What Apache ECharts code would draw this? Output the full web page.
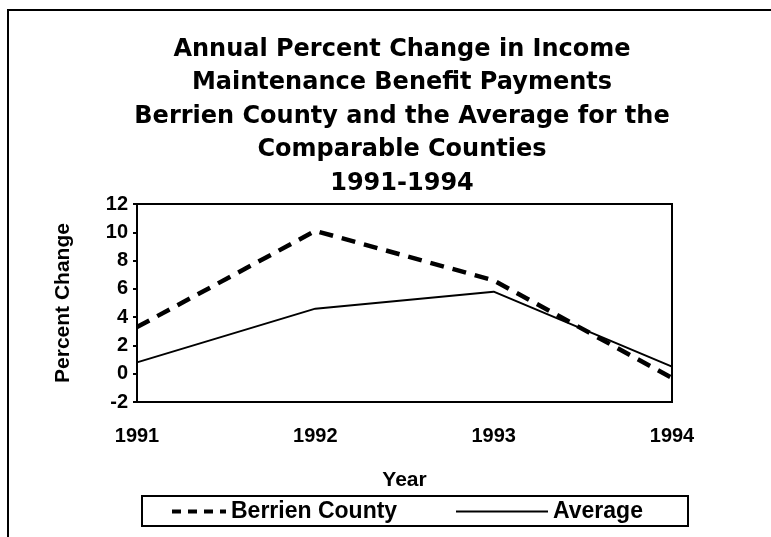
<!DOCTYPE html>
<html>
<head>
<meta charset="utf-8">
<script src="https://cdn.jsdelivr.net/npm/echarts@6/dist/echarts.min.js"></script>
<style>
  html, body { margin: 0; padding: 0; background: #fff; }
  #chart { width: 771px; height: 537px; }
</style>
</head>
<body>
<div id="chart"></div>
<script>
var years = ['1991', '1992', '1993', '1994'];
var berrien = [3.3, 10.1, 6.6, -0.3];
var average = [0.8, 4.6, 5.8, 0.5];
var titleLines = [
    'Annual Percent Change in Income',
    'Maintenance Benefit Payments',
    'Berrien County and the Average for the',
    'Comparable Counties',
    '1991-1994'
];

var font = '"Liberation Sans", Arial, sans-serif';
var wideFont = '"DejaVu Sans", sans-serif';
var chart = echarts.init(document.getElementById('chart'));

function legendTextStyle() {
    return { fontFamily: font, fontWeight: 'bold', fontSize: 23, color: '#000' };
}

chart.setOption({
    animation: false,
    backgroundColor: '#fff',
    title: {
        text: titleLines.join('\n'),
        left: 402,
        textAlign: 'center',
        top: 33,
        padding: 0,
        textStyle: {
            fontFamily: wideFont,
            fontWeight: 'bold',
            fontSize: 24,
            lineHeight: 33.5,
            color: '#000'
        }
    },
    graphic: [{
        // outer chart frame (right/bottom edges fall outside the picture)
        type: 'rect',
        shape: { x: 8, y: 10, width: 820, height: 600 },
        style: { fill: 'none', stroke: '#000', lineWidth: 2 }
    }, {
        // legend box
        type: 'rect',
        shape: { x: 142, y: 496, width: 546, height: 30 },
        style: { fill: 'none', stroke: '#000', lineWidth: 2 }
    }],
    grid: {
        left: 137,
        right: 99,
        top: 204,
        bottom: 135,
        show: true,
        borderColor: '#000',
        borderWidth: 2,
        backgroundColor: 'transparent'
    },
    legend: [{
        left: 170,
        top: 500,
        padding: 0,
        itemWidth: 54,
        itemHeight: 20,
        itemGap: 0,
        itemStyle: { opacity: 0 },
        lineStyle: { width: 4, type: [9, 7] },
        textStyle: legendTextStyle(),
        data: ['Berrien County']
    }, {
        left: 455,
        top: 500,
        padding: 0,
        itemWidth: 92,
        itemHeight: 20,
        itemGap: 0,
        itemStyle: { opacity: 0 },
        textStyle: legendTextStyle(),
        data: ['Average']
    }],
    xAxis: {
        type: 'category',
        data: years,
        boundaryGap: false,
        name: 'Year',
        nameLocation: 'middle',
        nameGap: 68,
        nameTextStyle: { fontFamily: font, fontWeight: 'bold', fontSize: 21, color: '#000' },
        axisLine: { onZero: false, lineStyle: { color: '#000', width: 2 } },
        axisTick: { show: false },
        axisLabel: {
            margin: 24,
            fontFamily: font,
            fontWeight: 'bold',
            fontSize: 20,
            color: '#000'
        },
        splitLine: { show: false }
    },
    yAxis: {
        type: 'value',
        min: -2,
        max: 12,
        interval: 2,
        name: 'Percent Change',
        nameLocation: 'middle',
        nameGap: 63,
        nameTextStyle: { fontFamily: font, fontWeight: 'bold', fontSize: 21, color: '#000' },
        axisLine: { show: true, lineStyle: { color: '#000', width: 2 } },
        axisTick: { show: true, length: 4, lineStyle: { color: '#000', width: 2 } },
        axisLabel: {
            margin: 9,
            fontFamily: font,
            fontWeight: 'bold',
            fontSize: 20,
            color: '#000'
        },
        splitLine: { show: false }
    },
    series: [{
        name: 'Berrien County',
        type: 'line',
        data: berrien,
        symbol: 'none',
        color: '#000',
        lineStyle: { color: '#000', width: 4.5, type: [14, 9] }
    }, {
        name: 'Average',
        type: 'line',
        data: average,
        symbol: 'none',
        color: '#000',
        lineStyle: { color: '#000', width: 2 }
    }]
});
</script>
</body>
</html>
